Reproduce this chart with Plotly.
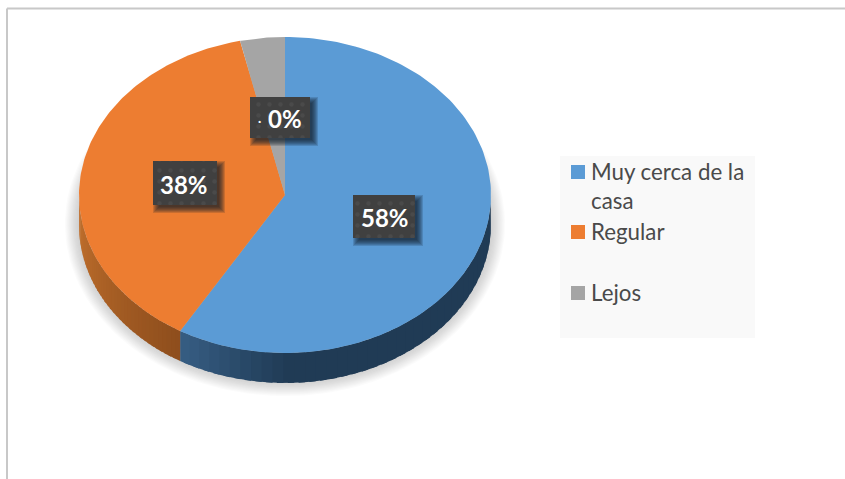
import numpy as np
import plotly.graph_objects as go

categories = ["Muy cerca de la<br>casa", "Regular", "Lejos"]
values = [58.5, 38, 3.5]
slice_labels = ["58%", "38%", "0%"]
colors = ["#5B9BD5", "#ED7D31", "#A5A5A5"]

W, H = 845, 479
CX, CY, RX, RY, DEPTH = 285, 195, 206, 158, 30


def dx(px):
    return (px - CX) / RX


def dy(py):
    return (CY - py) / RY


def hexrgb(c):
    return np.array([int(c[i:i + 2], 16) for i in (1, 3, 5)], float)


def mix(a, b, t):
    v = hexrgb(a) * (1 - t) + hexrgb(b) * t
    return "rgb(%d,%d,%d)" % tuple(v)


fig = go.Figure()


def poly(xs, ys, fill, **kw):
    fig.add_trace(go.Scatter(x=list(xs), y=list(ys), mode="lines", fill="toself", fillcolor=fill,
                             line=dict(width=0), hoverinfo="skip", showlegend=False, **kw))


# soft shadow under the pie
for k in range(24):
    t = k / 23
    a = np.linspace(0, 2 * np.pi, 160)
    rx = (220 - 26 * t) / RX
    ry = (172 - 26 * t) / RY
    poly(rx * np.sin(a), dy(224) + ry * np.cos(a), "rgba(120,120,120,0.03)")

# angles clockwise from 12 o'clock
edges = np.concatenate([[0], np.cumsum(values)]) / sum(values) * 2 * np.pi
d = DEPTH / RY

# side wall, front half only
wall = {0: ("#203B55", "#375E84"), 1: ("#8E4E1D", "#C4722E")}
for i, (c1, c2) in wall.items():
    a0 = max(edges[i], np.pi / 2)
    a1 = min(edges[i + 1], 1.5 * np.pi)
    steps = 40
    for s in range(steps):
        u0 = a0 + (a1 - a0) * s / steps
        u1 = min(a0 + (a1 - a0) * (s + 1.6) / steps, a1)
        mid = (u0 + u1) / 2
        if i == 0:
            t = max(0, (mid - np.pi) / (a1 - np.pi))
        else:
            t = (mid - a0) / (a1 - a0)
        aa = np.linspace(u0, u1, 6)
        xs = np.concatenate([np.sin(aa), np.sin(aa[::-1])])
        ys = np.concatenate([np.cos(aa), np.cos(aa[::-1]) - d])
        poly(xs, ys, mix(c1, c2, t))

# top faces
for i, c in enumerate(colors):
    aa = np.linspace(edges[i], edges[i + 1], 160)
    poly(np.r_[0, np.sin(aa), 0], np.r_[0, np.cos(aa), 0], c)

# label boxes: (left, top, right, bottom) in page pixels, then text centre
boxes = [(353, 195, 415, 238), (153, 161, 217, 205), (250, 97, 310, 138)]
text_x = [385, 184, 285]
for (l, t, r, b), txt, tx in zip(boxes, slice_labels, text_x):
    for k in range(7):
        o = 8 - k
        poly([dx(l + 8 - o), dx(r + o), dx(r + o), dx(l + 8 - o)],
             [dy(t + 8 - o), dy(t + 8 - o), dy(b + o), dy(b + o)], "rgba(20,30,40,0.17)")
    poly([dx(l), dx(r), dx(r), dx(l), dx(l)], [dy(t), dy(t), dy(b), dy(b), dy(t)], "#404040",
         fillpattern=dict(shape=".", fgcolor="#545454", bgcolor="#404040", size=11, solidity=0.12))
    fig.add_annotation(x=dx(tx), y=dy((t + b) / 2 + 1), text="<b>%s</b>" % txt, showarrow=False,
                       font=dict(family="Lato", size=24, color="#FFFFFF"))
fig.add_annotation(x=dx(259.5), y=dy(120), text="<b>·</b>", showarrow=False,
                   font=dict(family="Lato", size=12, color="#FFFFFF"))

# legend
legend_rows = [172, 232, 293]
poly([dx(560), dx(755), dx(755), dx(560)], [dy(156), dy(156), dy(338), dy(338)], "#F9F9F9")
for name, c, y in zip(categories, colors, legend_rows):
    fig.add_trace(go.Scatter(x=[dx(578)], y=[dy(y)], mode="markers", hoverinfo="skip", showlegend=False,
                             marker=dict(symbol="square", size=14, color=c, line=dict(width=0))))
    fig.add_annotation(x=dx(589), y=dy(y - 16), text=name, showarrow=False, xanchor="left", yanchor="top",
                       align="left", font=dict(family="Lato", size=22.3, color="#4A4A4A"))

fig.update_layout(
    width=W, height=H, margin=dict(l=0, r=0, t=0, b=0),
    paper_bgcolor="white", plot_bgcolor="white", showlegend=False,
    xaxis=dict(range=[dx(0), dx(W)], visible=False, fixedrange=True),
    yaxis=dict(range=[dy(H), dy(0)], visible=False, fixedrange=True),
    shapes=[
        dict(type="line", xref="paper", yref="paper", x0=7 / W, x1=1, y0=1 - 8.5 / H, y1=1 - 8.5 / H,
             line=dict(color="#C8C8C8", width=2)),
        dict(type="line", xref="paper", yref="paper", x0=7 / W, x1=7 / W, y0=0, y1=1 - 8.5 / H,
             line=dict(color="#C8C8C8", width=2)),
    ],
)
fig.write_html("out.html", config=dict(displayModeBar=False),
               post_script="document.body.style.margin='0';document.body.style.overflow='hidden';")
